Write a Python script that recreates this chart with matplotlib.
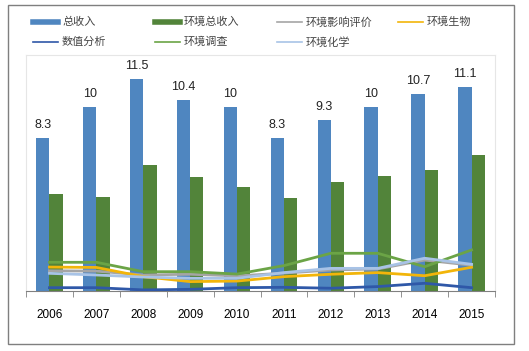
import matplotlib
matplotlib.use("Agg")
import matplotlib.pyplot as plt
from matplotlib.lines import Line2D
from matplotlib.patches import Rectangle
import numpy as np

plt.rcParams['font.family'] = ['Liberation Sans', 'Noto Sans CJK SC', 'DejaVu Sans']

years = ['2006', '2007', '2008', '2009', '2010', '2011', '2012', '2013', '2014', '2015']
total_income = [8.3, 10, 11.5, 10.4, 10, 8.3, 9.3, 10, 10.7, 11.1]
env_income = [5.27, 5.12, 6.85, 6.2, 5.65, 5.07, 5.94, 6.25, 6.58, 7.39]
env_assess = [1.10, 1.08, 0.87, 0.91, 0.82, 0.97, 1.14, 1.20, 1.68, 1.40]
env_bio = [1.30, 1.28, 0.78, 0.51, 0.54, 0.78, 0.91, 1.00, 0.83, 1.29]
numeric = [0.18, 0.18, 0.06, 0.09, 0.18, 0.20, 0.15, 0.24, 0.42, 0.18]
env_survey = [1.56, 1.56, 1.05, 1.05, 0.92, 1.38, 2.05, 2.05, 1.32, 2.23]
env_chem = [0.96, 0.87, 0.76, 0.69, 0.69, 1.00, 1.23, 1.23, 1.78, 1.45]

W, H = 529, 351
fig = plt.figure(figsize=(W / 100, H / 100), dpi=100)
fig.patch.set_facecolor('white')
ax = fig.add_axes([26 / W, (H - 291) / H, (495 - 26) / W, (291 - 55) / H])

x = np.arange(len(years))
bw = 0.283
c_blue = '#4F86C0'
c_green = '#52843A'
c_gray = '#A5A5A5'
c_gold = '#F2B50A'
c_dblue = '#2F58A8'
c_lgreen = '#6BA446'
c_lblue = '#A8C3E6'

ax.bar(x - bw / 2, total_income, bw, color=c_blue, zorder=2)
ax.bar(x + bw / 2, env_income, bw, color=c_green, zorder=2)

for xi, v in zip(x, total_income):
    ax.text(xi - bw / 2, v + 0.38, f'{v:g}', ha='center', va='bottom', fontsize=9, color='#222222')

line_specs = [
    (env_assess, c_gray),
    (env_bio, c_gold),
    (numeric, c_dblue),
    (env_survey, c_lgreen),
    (env_chem, c_lblue),
]
for vals, col in line_specs:
    ax.plot(x, vals, color=col, lw=2, zorder=3)

ax.set_xlim(-0.5, len(years) - 0.5)
ax.set_ylim(0, 236 / 18.4)
ax.set_yticks([])
ax.set_xticks(x)
ax.set_xticklabels(years, fontsize=8.5)
ax.set_xticks(np.arange(len(years) + 1) - 0.5, minor=True)
ax.tick_params(axis='x', which='major', length=0, pad=13)
ax.tick_params(axis='x', which='minor', length=4, color='#808080', direction='out')
for s in ['top', 'right', 'left']:
    ax.spines[s].set_color('#E6E6E6')
    ax.spines[s].set_linewidth(0.8)
ax.spines['bottom'].set_color('#808080')
ax.spines['bottom'].set_linewidth(0.8)

fig.add_artist(Rectangle((8 / W, (H - 344) / H), 506 / W, 339 / H, transform=fig.transFigure,
                         fill=False, edgecolor='#7F7F7F', lw=1))

# legend entries laid out in rows like the reference
legend_items = [
    ('总收入', c_blue, 4, 33, 22),
    ('环境总收入', c_green, 4, 155, 22),
    ('环境影响评价', c_gray, 1.2, 277, 22),
    ('环境生物', c_gold, 1.2, 398, 22),
    ('数值分析', c_dblue, 1.2, 33, 42),
    ('环境调查', c_lgreen, 1.2, 155, 42),
    ('环境化学', c_lblue, 1.2, 277, 42),
]
for lab, col, lw, px, py in legend_items:
    yy = 1 - py / H
    fig.add_artist(Line2D([px / W, (px + 25) / W], [yy, yy], color=col, lw=lw,
                          transform=fig.transFigure))
    fig.text((px + 29) / W, yy, lab, fontsize=8, color='#444444', va='center', ha='left')

fig.savefig('out.png', dpi=100, facecolor='white')
